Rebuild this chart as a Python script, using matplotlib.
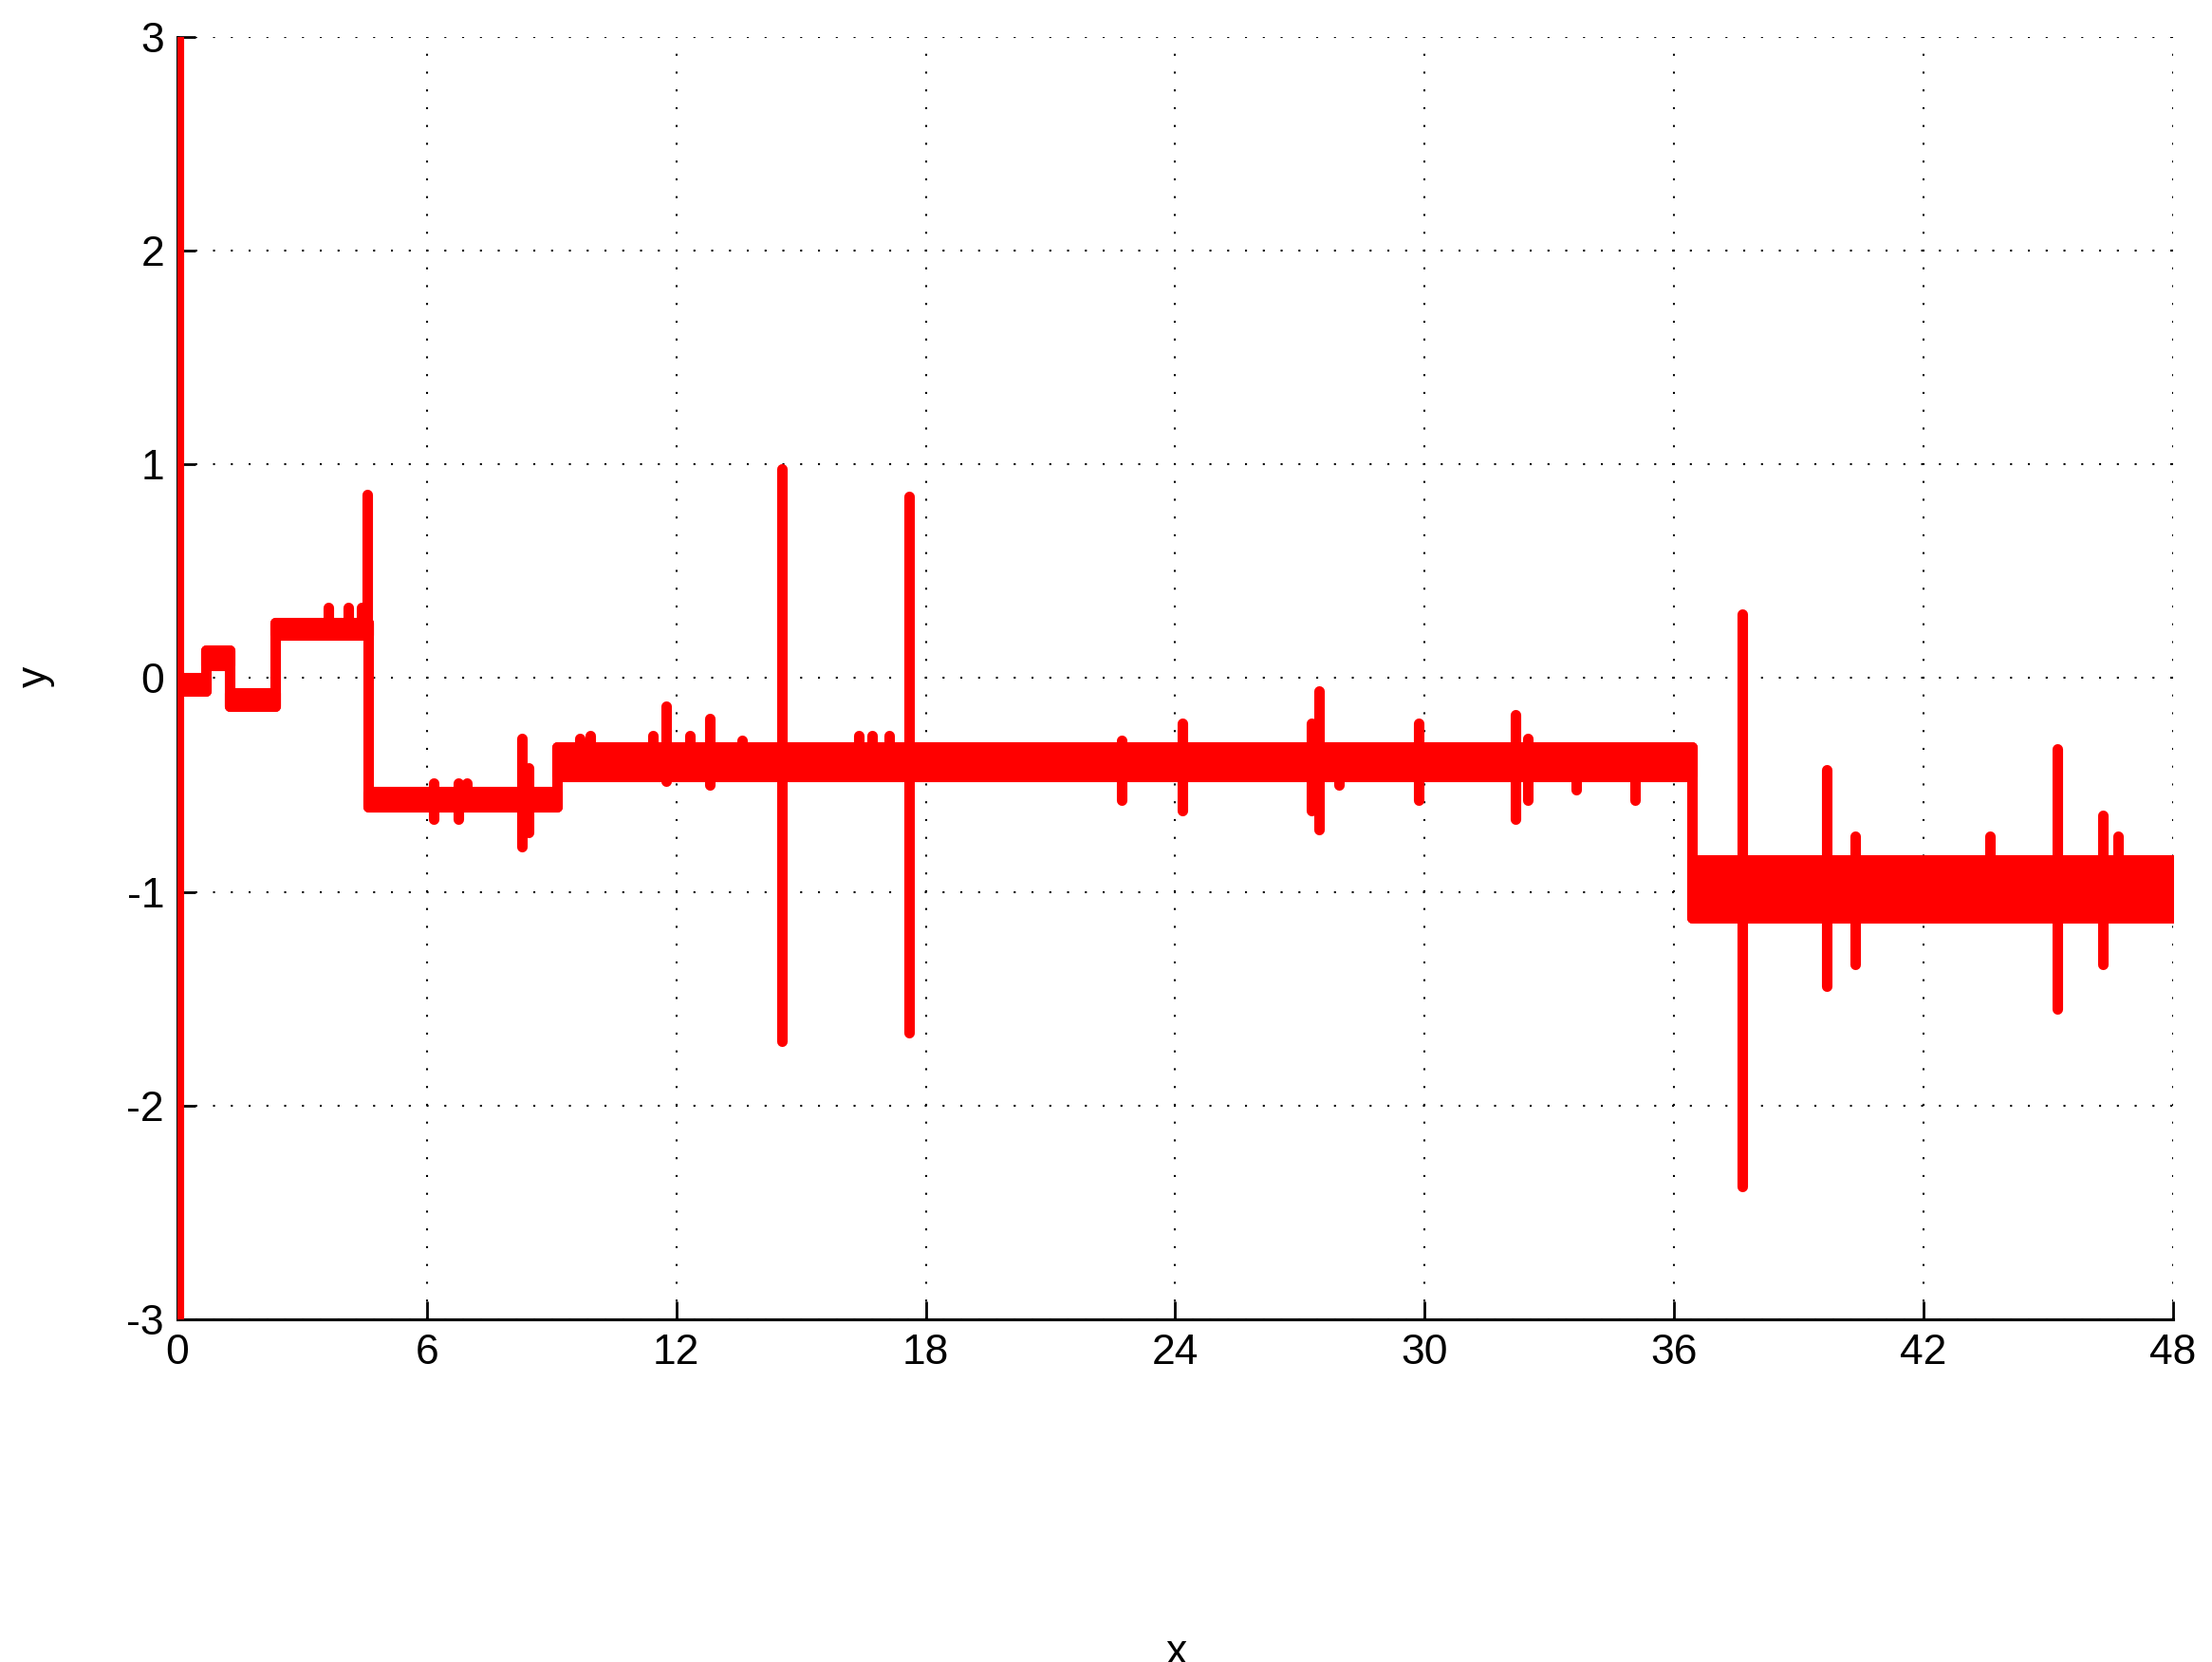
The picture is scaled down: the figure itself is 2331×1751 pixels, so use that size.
import matplotlib
matplotlib.use("Agg")
import matplotlib.pyplot as plt

plt.rcParams['font.family'] = ['Liberation Sans', 'DejaVu Sans']

# flat stretches of the signal: start, end, lower and upper level of the band
band_x0 = [0.0, 0.68, 1.25, 2.35, 4.60, 9.13, 36.42]
band_x1 = [0.68, 1.25, 2.35, 4.60, 9.13, 36.42, 48.0]
band_lo = [-0.06, 0.06, -0.13, 0.20, -0.60, -0.46, -1.12]
band_hi = [0.00, 0.13, -0.07, 0.26, -0.53, -0.32, -0.85]

# single excursions out of the band: position, min, max
spike_x = [0.03, 3.62, 4.10, 4.42, 4.56, 6.16, 6.75, 6.96, 8.29, 8.44,
           9.69, 9.92, 11.44, 11.75, 12.32, 12.81, 13.58, 14.54, 16.39, 16.71,
           17.12, 17.59, 22.71, 24.17, 27.27, 27.45, 27.94, 29.86, 32.18, 32.49,
           33.65, 35.06, 37.63, 39.67, 40.35, 43.60, 45.22, 46.31, 46.67]
spike_lo = [-3.0, 0.22, 0.22, 0.22, 0.20, -0.66, -0.66, -0.60, -0.79, -0.72,
            -0.45, -0.45, -0.45, -0.48, -0.45, -0.50, -0.45, -1.70, -0.45, -0.45,
            -0.45, -1.66, -0.57, -0.62, -0.62, -0.71, -0.50, -0.57, -0.66, -0.57,
            -0.52, -0.57, -2.38, -1.44, -1.34, -1.00, -1.55, -1.34, -1.00]
spike_hi = [3.0, 0.33, 0.33, 0.33, 0.86, -0.49, -0.49, -0.49, -0.28, -0.42,
            -0.28, -0.27, -0.27, -0.13, -0.27, -0.19, -0.29, 0.98, -0.27, -0.27,
            -0.27, 0.85, -0.29, -0.21, -0.21, -0.06, -0.35, -0.21, -0.17, -0.28,
            -0.35, -0.35, 0.30, -0.43, -0.74, -0.74, -0.33, -0.64, -0.74]

x_ticks = [0, 6, 12, 18, 24, 30, 36, 42, 48]
y_ticks = [-3, -2, -1, 0, 1, 2, 3]

red = '#ff0000'
lw = 8

fig = plt.figure(figsize=(23.31, 17.51), dpi=100)
ax = fig.add_axes([0.0802, 0.2062, 0.9022, 0.7715])

for x0, x1, lo, hi in zip(band_x0, band_x1, band_lo, band_hi):
    ax.fill_between([x0, x1], [lo, lo], [hi, hi], facecolor=red,
                    edgecolor=red, linewidth=lw, joinstyle='round', zorder=3)

# jumps between neighbouring stretches
for i in range(len(band_x0) - 1):
    ax.vlines(band_x1[i], min(band_lo[i], band_lo[i + 1]),
              max(band_hi[i], band_hi[i + 1]), color=red, linewidth=lw,
              capstyle='round', zorder=3)

ax.vlines(spike_x, spike_lo, spike_hi, color=red, linewidth=lw,
          capstyle='round', zorder=3)

ax.set_xlim(0, 48)
ax.set_ylim(-3, 3)
ax.set_xticks(x_ticks)
ax.set_yticks(y_ticks)
ax.set_xticklabels([str(t) for t in x_ticks])
ax.set_yticklabels([str(t) for t in y_ticks])

ax.spines['top'].set_visible(False)
ax.spines['right'].set_visible(False)
for s in ['left', 'bottom']:
    ax.spines[s].set_linewidth(2.2)

ax.tick_params(direction='in', length=14, width=2, labelsize=32)
ax.tick_params(axis='x', pad=11)
ax.tick_params(axis='y', pad=10)
ax.grid(True, color='black', linestyle=(0, (1, 8)), linewidth=1.5)
ax.set_axisbelow(True)

fig.text(1240 / 2331, 1 - 1721 / 1751, 'x', fontsize=32, ha='center', va='top')
fig.text(37 / 2331, 1 - 713 / 1751, 'y', fontsize=32, rotation=90,
         ha='center', va='center')

fig.savefig('out.png', dpi=100)
